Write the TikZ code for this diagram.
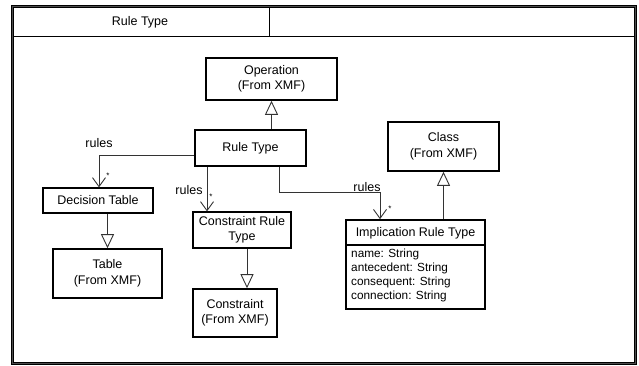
\documentclass[tikz,border=0pt]{standalone}
\usepackage{fontspec}
\setmainfont{Liberation Sans}
\usetikzlibrary{arrows.meta}
\begin{document}
\begin{tikzpicture}[x=1pt,y=-1pt,
  box/.style={draw=black,line width=1.6pt,inner sep=0pt,align=center,
    font=\fontsize{12.5}{15.5}\selectfont},
  thinbox/.style={box,line width=1.2pt},
  gen/.style={draw=gray!40!black,line width=0.9pt,-{Triangle[open,length=14pt,width=13pt,line width=0.9pt]}},
  assoc/.style={draw=gray!40!black,line width=0.9pt,-{Straight Barb[length=9pt,width=13pt,line width=0.9pt]}},
  lbl/.style={font=\fontsize{12.5}{13}\selectfont,inner sep=0pt},
  star/.style={font=\fontsize{8}{8}\selectfont,inner sep=0pt}]
\useasboundingbox (0,0) rectangle (639,366);
% frame
\draw[line width=2.2pt,gray!60!black] (12.5,6.5) rectangle (635.5,363.5);
\draw[line width=0.7pt,black] (11.3,5.3) rectangle (636.7,364.7);
\draw[line width=0.7pt,black] (13.7,7.7) rectangle (634.3,362.3);
\draw[line width=1pt,black] (14,37) -- (634,37);
\draw[line width=1pt,black] (269,8) -- (269,37);
\node[lbl] (title) at (140,22) {Rule Type};
% nodes
\node[box,minimum width=131pt,minimum height=42pt] (op) at (271.5,79) {Operation\\(From XMF)};
\node[box,minimum width=111pt,minimum height=36pt] (rt) at (250.5,148) {Rule Type};
\node[thinbox,minimum width=110pt,minimum height=25pt] (dt) at (98,200.5) {Decision Table};
\node[thinbox,minimum width=98pt,minimum height=36pt] (crt) at (242,230) {Constraint Rule\\Type};
\node[box,minimum width=84pt,minimum height=48pt] (con) at (235,313) {Constraint\\(From XMF)};
\node[box,minimum width=109pt,minimum height=49pt] (tab) at (107.5,273.5) {Table\\(From XMF)};
\node[box,minimum width=111pt,minimum height=49pt] (cls) at (443.5,146.5) {Class\\(From XMF)};
\node[box,minimum width=139pt,minimum height=89pt] (imp) at (415.5,264.5) {};
\node[lbl] (imptitle) at (415.5,233) {Implication Rule Type};
\draw[line width=1.2pt] (imp.west |- 0,245) -- (imp.east |- 0,245);
\node[lbl,anchor=north west,align=left,font=\fontsize{11.8}{13.9}\selectfont] (impattr) at (351,249)
  {name: String\\antecedent: String\\consequent: String\\connection: String};
% generalizations
\draw[gen] (op.south |- rt.north) -- (op.south);
\draw[gen] (tab.north |- dt.south) -- (tab.north);
\draw[gen] ([xshift=5pt]crt.south) -- ([xshift=5pt]crt.south |- con.north);
\draw[gen] (cls.south |- imp.north) -- (cls.south);
% associations
\draw[assoc] ([yshift=-7pt]rt.west) -| ([xshift=1pt]dt.north);
\draw[assoc] ([xshift=-43.5pt]rt.south) -- ([xshift=-43.5pt]rt.south |- crt.north);
\draw[assoc] ([xshift=28.5pt]rt.south) |- ([xshift=-35.5pt,yshift=27pt]imp.north) -- ([xshift=-35.5pt]imp.north);
% labels
\node[lbl] (r1) at (99,143) {rules};
\node[star] (s1) at (108,176) {*};
\node[lbl] (r2) at (189,190) {rules};
\node[star] (s2) at (211,197) {*};
\node[lbl] (r3) at (367,187) {rules};
\node[star] (s3) at (390,209) {*};
\end{tikzpicture}
\end{document}
